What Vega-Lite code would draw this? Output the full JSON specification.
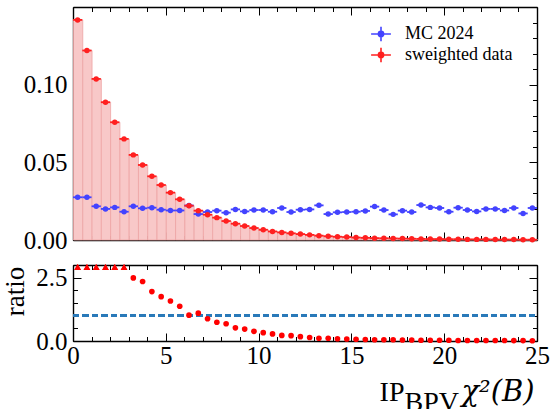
{
  "$schema": "https://vega.github.io/schema/vega-lite/v6.json",
  "autosize": {"type": "none"},
  "padding": {"left": 73, "top": 7, "right": 477, "bottom": 402},
  "spacing": 11,
  "datasets": {
    "bins": [
      {"c": 0.25, "lo": 0.0, "hi": 0.5, "mc": 0.0275, "dat": 0.1417, "ratio": 5.15},
      {"c": 0.75, "lo": 0.5, "hi": 1.0, "mc": 0.0275, "dat": 0.1220, "ratio": 4.44},
      {"c": 1.25, "lo": 1.0, "hi": 1.5, "mc": 0.0217, "dat": 0.1037, "ratio": 4.78},
      {"c": 1.75, "lo": 1.5, "hi": 2.0, "mc": 0.0200, "dat": 0.0887, "ratio": 4.44},
      {"c": 2.25, "lo": 2.0, "hi": 2.5, "mc": 0.0210, "dat": 0.0758, "ratio": 3.61},
      {"c": 2.75, "lo": 2.5, "hi": 3.0, "mc": 0.0182, "dat": 0.0651, "ratio": 3.58},
      {"c": 3.25, "lo": 3.0, "hi": 3.5, "mc": 0.0217, "dat": 0.0548, "ratio": 2.49},
      {"c": 3.75, "lo": 3.5, "hi": 4.0, "mc": 0.0204, "dat": 0.0483, "ratio": 2.35},
      {"c": 4.25, "lo": 4.0, "hi": 4.5, "mc": 0.0208, "dat": 0.0410, "ratio": 1.95},
      {"c": 4.75, "lo": 4.5, "hi": 5.0, "mc": 0.0195, "dat": 0.0354, "ratio": 1.75},
      {"c": 5.25, "lo": 5.0, "hi": 5.5, "mc": 0.0190, "dat": 0.0305, "ratio": 1.58},
      {"c": 5.75, "lo": 5.5, "hi": 6.0, "mc": 0.0190, "dat": 0.0262, "ratio": 1.37},
      {"c": 6.25, "lo": 6.0, "hi": 6.5, "mc": 0.0222, "dat": 0.0221, "ratio": 1.02},
      {"c": 6.75, "lo": 6.5, "hi": 7.0, "mc": 0.0167, "dat": 0.0189, "ratio": 1.10},
      {"c": 7.25, "lo": 7.0, "hi": 7.5, "mc": 0.0180, "dat": 0.0163, "ratio": 0.88},
      {"c": 7.75, "lo": 7.5, "hi": 8.0, "mc": 0.0189, "dat": 0.0144, "ratio": 0.74},
      {"c": 8.25, "lo": 8.0, "hi": 8.5, "mc": 0.0176, "dat": 0.0122, "ratio": 0.68},
      {"c": 8.75, "lo": 8.5, "hi": 9.0, "mc": 0.0197, "dat": 0.0105, "ratio": 0.52},
      {"c": 9.25, "lo": 9.0, "hi": 9.5, "mc": 0.0184, "dat": 0.0090, "ratio": 0.47},
      {"c": 9.75, "lo": 9.5, "hi": 10.0, "mc": 0.0193, "dat": 0.0077, "ratio": 0.38},
      {"c": 10.25, "lo": 10.0, "hi": 10.5, "mc": 0.0193, "dat": 0.0066, "ratio": 0.33},
      {"c": 10.75, "lo": 10.5, "hi": 11.0, "mc": 0.0182, "dat": 0.0055, "ratio": 0.28},
      {"c": 11.25, "lo": 11.0, "hi": 11.5, "mc": 0.0206, "dat": 0.0049, "ratio": 0.22},
      {"c": 11.75, "lo": 11.5, "hi": 12.0, "mc": 0.0180, "dat": 0.0043, "ratio": 0.21},
      {"c": 12.25, "lo": 12.0, "hi": 12.5, "mc": 0.0195, "dat": 0.0038, "ratio": 0.17},
      {"c": 12.75, "lo": 12.5, "hi": 13.0, "mc": 0.0197, "dat": 0.0033, "ratio": 0.14},
      {"c": 13.25, "lo": 13.0, "hi": 13.5, "mc": 0.0223, "dat": 0.0028, "ratio": 0.11},
      {"c": 13.75, "lo": 13.5, "hi": 14.0, "mc": 0.0167, "dat": 0.0024, "ratio": 0.11},
      {"c": 14.25, "lo": 14.0, "hi": 14.5, "mc": 0.0178, "dat": 0.0021, "ratio": 0.09},
      {"c": 14.75, "lo": 14.5, "hi": 15.0, "mc": 0.0180, "dat": 0.0019, "ratio": 0.08},
      {"c": 15.25, "lo": 15.0, "hi": 15.5, "mc": 0.0182, "dat": 0.0016, "ratio": 0.07},
      {"c": 15.75, "lo": 15.5, "hi": 16.0, "mc": 0.0187, "dat": 0.0014, "ratio": 0.06},
      {"c": 16.25, "lo": 16.0, "hi": 16.5, "mc": 0.0215, "dat": 0.0012, "ratio": 0.05},
      {"c": 16.75, "lo": 16.5, "hi": 17.0, "mc": 0.0193, "dat": 0.0011, "ratio": 0.05},
      {"c": 17.25, "lo": 17.0, "hi": 17.5, "mc": 0.0165, "dat": 0.0010, "ratio": 0.05},
      {"c": 17.75, "lo": 17.5, "hi": 18.0, "mc": 0.0189, "dat": 0.0009, "ratio": 0.04},
      {"c": 18.25, "lo": 18.0, "hi": 18.5, "mc": 0.0180, "dat": 0.0008, "ratio": 0.04},
      {"c": 18.75, "lo": 18.5, "hi": 19.0, "mc": 0.0225, "dat": 0.0007, "ratio": 0.03},
      {"c": 19.25, "lo": 19.0, "hi": 19.5, "mc": 0.0210, "dat": 0.0006, "ratio": 0.03},
      {"c": 19.75, "lo": 19.5, "hi": 20.0, "mc": 0.0206, "dat": 0.0006, "ratio": 0.03},
      {"c": 20.25, "lo": 20.0, "hi": 20.5, "mc": 0.0182, "dat": 0.0005, "ratio": 0.03},
      {"c": 20.75, "lo": 20.5, "hi": 21.0, "mc": 0.0208, "dat": 0.0005, "ratio": 0.02},
      {"c": 21.25, "lo": 21.0, "hi": 21.5, "mc": 0.0193, "dat": 0.0004, "ratio": 0.02},
      {"c": 21.75, "lo": 21.5, "hi": 22.0, "mc": 0.0184, "dat": 0.0004, "ratio": 0.02},
      {"c": 22.25, "lo": 22.0, "hi": 22.5, "mc": 0.0200, "dat": 0.0004, "ratio": 0.02},
      {"c": 22.75, "lo": 22.5, "hi": 23.0, "mc": 0.0200, "dat": 0.0003, "ratio": 0.02},
      {"c": 23.25, "lo": 23.0, "hi": 23.5, "mc": 0.0190, "dat": 0.0003, "ratio": 0.02},
      {"c": 23.75, "lo": 23.5, "hi": 24.0, "mc": 0.0206, "dat": 0.0003, "ratio": 0.015},
      {"c": 24.25, "lo": 24.0, "hi": 24.5, "mc": 0.0171, "dat": 0.0002, "ratio": 0.015},
      {"c": 24.75, "lo": 24.5, "hi": 25.0, "mc": 0.0206, "dat": 0.0002, "ratio": 0.01}
    ]
  },
  "vconcat": [
    {
      "width": 464,
      "height": 233,
      "data": {"name": "bins"},
      "resolve": {"axis": {"x": "independent", "y": "independent"}},
      "layer": [
        {
          "mark": {"type": "bar", "fill": "#f8c8c8", "stroke": "#eea4a4", "strokeWidth": 0.8, "binSpacing": 0},
          "encoding": {
            "x": {"field": "lo", "type": "quantitative", "bin": "binned", "scale": {"domain": [0, 25], "nice": false, "zero": false},
                  "axis": {"orient": "bottom", "values": [0, 5, 10, 15, 20, 25], "tickSize": -8, "labels": false, "title": null}},
            "x2": {"field": "hi"},
            "y": {"field": "dat", "type": "quantitative", "scale": {"domain": [0, 0.15], "nice": false},
                  "axis": {"orient": "left", "values": [0, 0.05, 0.1], "format": ".2f", "tickSize": -8, "labelPadding": 14, "title": null}}
          }
        },
        {
          "mark": {"type": "rule", "strokeWidth": 1.8},
          "encoding": {
            "x": {"field": "lo", "type": "quantitative",
                  "axis": {"orient": "bottom", "values": [0,1,2,3,4,5,6,7,8,9,10,11,12,13,14,15,16,17,18,19,20,21,22,23,24,25], "tickSize": -4.5, "labels": false, "domain": false, "title": null}},
            "x2": {"field": "hi"},
            "y": {"field": "mc", "type": "quantitative",
                  "axis": {"orient": "left", "values": [0,0.01,0.02,0.03,0.04,0.05,0.06,0.07,0.08,0.09,0.1,0.11,0.12,0.13,0.14], "tickSize": -4.5, "labels": false, "domain": false, "title": null}},
            "color": {"datum": "MC 2024", "type": "nominal"}
          }
        },
        {
          "mark": {"type": "point", "filled": true, "size": 30, "opacity": 1},
          "encoding": {
            "x": {"field": "c", "type": "quantitative",
                  "axis": {"orient": "top", "values": [0, 5, 10, 15, 20, 25], "tickSize": -8, "labels": false, "title": null}},
            "y": {"field": "mc", "type": "quantitative",
                  "axis": {"orient": "right", "values": [0, 0.05, 0.1], "tickSize": -8, "labels": false, "title": null}},
            "color": {"datum": "MC 2024", "type": "nominal",
                      "scale": {"domain": ["MC 2024", "sweighted data"], "range": ["#4343ff", "#ff2020"]},
                      "legend": {
                        "orient": "none", "legendX": 298, "legendY": 17, "title": null,
                        "symbolType": "M-1.1,0L1.1,0M0,-0.8L0,0.8M0.29,0A0.29,0.29,0,1,1,-0.29,0A0.29,0.29,0,1,1,0.29,0Z",
                        "symbolSize": 324, "labelFontSize": 18, "labelFont": "Liberation Serif", "labelColor": "black",
                        "labelOffset": 14, "rowPadding": -3, "symbolStrokeWidth": 1.6,
                        "encode": {"symbols": {
                          "fill": {"signal": "datum.value === 'MC 2024' ? '#4343ff' : '#ff2020'"},
                          "stroke": {"signal": "datum.value === 'MC 2024' ? '#4343ff' : '#ff2020'"},
                          "strokeWidth": {"value": 1.6},
                          "opacity": {"value": 1}
                        }}
                      }}
          }
        },
        {
          "mark": {"type": "rule", "strokeWidth": 1.8},
          "encoding": {
            "x": {"field": "lo", "type": "quantitative",
                  "axis": {"orient": "top", "values": [0,1,2,3,4,5,6,7,8,9,10,11,12,13,14,15,16,17,18,19,20,21,22,23,24,25], "tickSize": -4.5, "labels": false, "domain": false, "title": null}},
            "x2": {"field": "hi"},
            "y": {"field": "dat", "type": "quantitative",
                  "axis": {"orient": "right", "values": [0,0.01,0.02,0.03,0.04,0.05,0.06,0.07,0.08,0.09,0.1,0.11,0.12,0.13,0.14], "tickSize": -4.5, "labels": false, "domain": false, "title": null}},
            "color": {"datum": "sweighted data", "type": "nominal"}
          }
        },
        {
          "mark": {"type": "point", "filled": true, "size": 30, "opacity": 1},
          "encoding": {
            "x": {"field": "c", "type": "quantitative", "axis": null},
            "y": {"field": "dat", "type": "quantitative", "axis": null},
            "color": {"datum": "sweighted data", "type": "nominal"}
          }
        }
      ]
    },
    {
      "width": 464,
      "height": 76,
      "data": {"name": "bins"},
      "resolve": {"axis": {"x": "independent", "y": "independent"}},
      "layer": [
        {
          "mark": {"type": "rule", "color": "#2a7ab9", "strokeWidth": 1.8, "strokeDash": [6, 3.5]},
          "encoding": {
            "x": {"datum": 0, "type": "quantitative", "scale": {"domain": [0, 25], "nice": false, "zero": false},
                  "axis": {"orient": "bottom", "values": [0,1,2,3,4,5,6,7,8,9,10,11,12,13,14,15,16,17,18,19,20,21,22,23,24,25], "tickSize": -4.5, "labels": false, "domain": false,
                           "title": "BPV", "titleX": 331, "titleY": 69, "titleAlign": "left", "titleBaseline": "alphabetic"}},
            "x2": {"datum": 25},
            "y": {"datum": 1, "type": "quantitative", "scale": {"domain": [0, 3], "nice": false, "clamp": true},
                  "axis": {"orient": "left", "values": [0,0.5,1,1.5,2,2.5,3], "tickSize": -4.5, "labels": false, "domain": false, "title": null}}
          }
        },
        {
          "transform": [{"filter": "datum.ratio <= 3"}],
          "mark": {"type": "point", "filled": true, "shape": "circle", "size": 32, "color": "#ff0000", "opacity": 1},
          "encoding": {
            "x": {"field": "c", "type": "quantitative",
                  "axis": {"orient": "bottom", "values": [0, 5, 10, 15, 20, 25], "tickSize": -8, "labelPadding": 10, "labelFlush": false,
                           "title": "IP", "titleX": 331, "titleY": 59, "titleAlign": "right", "titleBaseline": "alphabetic"}},
            "y": {"field": "ratio", "type": "quantitative",
                  "axis": {"orient": "left", "values": [0, 2.5], "format": ".1f", "tickSize": -8, "labelPadding": 14,
                           "title": "ratio", "titleX": -58, "titleY": 26, "titleAngle": 270, "titleAlign": "center", "titleBaseline": "middle", "titleFontSize": 27}}
          }
        },
        {
          "transform": [{"filter": "datum.ratio > 3"}],
          "mark": {"type": "point", "filled": true, "shape": "triangle-up", "size": 45, "color": "#ff0000", "opacity": 1, "yOffset": 2},
          "encoding": {
            "x": {"field": "c", "type": "quantitative",
                  "axis": {"orient": "top", "values": [0, 5, 10, 15, 20, 25], "tickSize": -8, "labels": false,
                           "title": "χ²(B)", "titleX": 388, "titleY": 135, "titleAlign": "left", "titleBaseline": "alphabetic", "titleFontStyle": "italic", "titleFont": "DejaVu Serif", "titleFontSize": 29}},
            "y": {"field": "ratio", "type": "quantitative",
                  "axis": {"orient": "right", "values": [0, 2.5], "tickSize": -8, "labels": false, "title": null}}
          }
        },
        {
          "transform": [{"filter": "datum.ratio > 3"}],
          "mark": {"type": "point", "filled": true, "shape": "triangle-up", "size": 45, "color": "#ff0000", "opacity": 1, "yOffset": 2},
          "encoding": {
            "x": {"field": "c", "type": "quantitative",
                  "axis": {"orient": "top", "values": [0,1,2,3,4,5,6,7,8,9,10,11,12,13,14,15,16,17,18,19,20,21,22,23,24,25], "tickSize": -4.5, "labels": false, "domain": false, "title": null}},
            "y": {"field": "ratio", "type": "quantitative",
                  "axis": {"orient": "right", "values": [0,0.5,1,1.5,2,2.5,3], "tickSize": -4.5, "labels": false, "domain": false, "title": null}}
          }
        }
      ]
    }
  ],
  "config": {
    "font": "Liberation Serif",
    "view": {"stroke": null},
    "axis": {
      "grid": false,
      "labelFont": "Liberation Serif",
      "labelFontSize": 25,
      "labelColor": "black",
      "labelFlush": false,
      "labelOverlap": false,
      "tickColor": "black",
      "tickWidth": 1,
      "domainColor": "black",
      "domainWidth": 1.4,
      "titleFont": "Liberation Serif",
      "titleFontSize": 28,
      "titleFontWeight": "normal",
      "titleColor": "black"
    }
  }
}
